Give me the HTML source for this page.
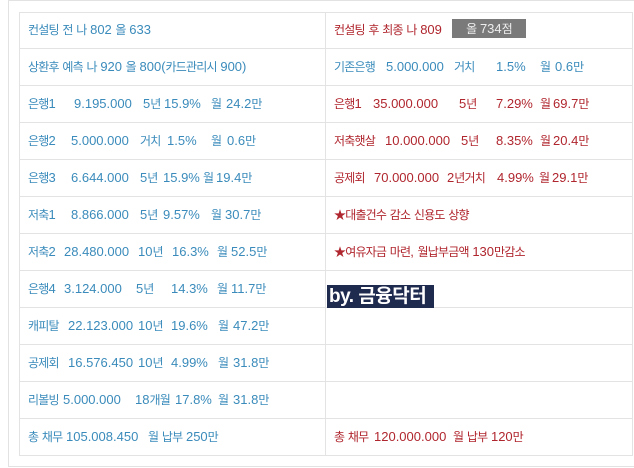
<!DOCTYPE html>
<html><head><meta charset="utf-8">
<style>
html,body{margin:0;padding:0;background:#fff;}
body{width:634px;height:468px;position:relative;overflow:hidden;font-family:"Liberation Sans","Noto Sans CJK KR",sans-serif;font-size:13px;}
.frame{position:absolute;left:8px;top:0;width:640px;height:465px;border:1px solid #e2e2e2;}
.tbl{position:absolute;left:19px;top:12px;width:612px;height:442px;border:1px solid #e3e3e3;}
.row{position:absolute;left:19px;width:614px;height:1px;background:#e3e3e3;}
.vline{position:absolute;left:325px;top:12px;width:1px;height:444px;background:#e3e3e3;}
.s{position:absolute;white-space:pre;line-height:16px;}
.b{color:#3a8bbb;}
.r{color:#b0262e;}
i{font-style:normal;font-size:12px;letter-spacing:-0.8px;}
.badge{position:absolute;left:452px;top:19px;width:74px;height:19px;background:#7a7a7a;color:#eee;line-height:19px;text-align:center;font-size:13px;}
.wm{position:absolute;left:327px;top:285px;width:107px;height:23px;background:#1f2a4f;color:#fff;font-weight:bold;font-size:19px;line-height:23px;padding-left:2px;box-sizing:border-box;white-space:pre;letter-spacing:-0.5px;}
</style></head><body>
<div class="frame"></div>
<div class="tbl"></div>
<div class="vline"></div>
<div class="row" style="top:48px"></div>
<div class="row" style="top:85px"></div>
<div class="row" style="top:122px"></div>
<div class="row" style="top:159px"></div>
<div class="row" style="top:196px"></div>
<div class="row" style="top:233px"></div>
<div class="row" style="top:270px"></div>
<div class="row" style="top:307px"></div>
<div class="row" style="top:344px"></div>
<div class="row" style="top:381px"></div>
<div class="row" style="top:418px"></div>

<!-- left column -->
<span class="s b" style="left:28px;top:22px"><i>컨설팅</i> <i>전</i> <i>나</i> 802 <i>올</i> 633</span>
<span class="s b" style="left:28px;top:59px"><i>상환후</i> <i>예측</i> <i>나</i> 920 <i>올</i> 800(<i>카드관리시</i> 900)</span>

<span class="s b" style="left:28px;top:96px"><i>은행</i>1</span>
<span class="s b" style="left:74px;top:96px">9.195.000</span>
<span class="s b" style="left:143px;top:96px">5<i>년</i></span>
<span class="s b" style="left:164px;top:96px">15.9%</span>
<span class="s b" style="left:211px;top:96px"><i>월</i></span>
<span class="s b" style="left:226px;top:96px">24.2<i>만</i></span>

<span class="s b" style="left:28px;top:133px"><i>은행</i>2</span>
<span class="s b" style="left:71px;top:133px">5.000.000</span>
<span class="s b" style="left:140px;top:133px"><i>거치</i></span>
<span class="s b" style="left:167px;top:133px">1.5%</span>
<span class="s b" style="left:211px;top:133px"><i>월</i></span>
<span class="s b" style="left:227px;top:133px">0.6<i>만</i></span>

<span class="s b" style="left:28px;top:170px"><i>은행</i>3</span>
<span class="s b" style="left:71px;top:170px">6.644.000</span>
<span class="s b" style="left:140px;top:170px">5<i>년</i></span>
<span class="s b" style="left:163px;top:170px">15.9%</span>
<span class="s b" style="left:203px;top:170px"><i>월</i></span>
<span class="s b" style="left:216px;top:170px">19.4<i>만</i></span>

<span class="s b" style="left:28px;top:207px"><i>저축</i>1</span>
<span class="s b" style="left:71px;top:207px">8.866.000</span>
<span class="s b" style="left:140px;top:207px">5<i>년</i></span>
<span class="s b" style="left:163px;top:207px">9.57%</span>
<span class="s b" style="left:211px;top:207px"><i>월</i></span>
<span class="s b" style="left:225px;top:207px">30.7<i>만</i></span>

<span class="s b" style="left:28px;top:244px"><i>저축</i>2</span>
<span class="s b" style="left:64px;top:244px">28.480.000</span>
<span class="s b" style="left:138px;top:244px">10<i>년</i></span>
<span class="s b" style="left:172px;top:244px">16.3%</span>
<span class="s b" style="left:217px;top:244px"><i>월</i></span>
<span class="s b" style="left:231px;top:244px">52.5<i>만</i></span>

<span class="s b" style="left:28px;top:281px"><i>은행</i>4</span>
<span class="s b" style="left:64px;top:281px">3.124.000</span>
<span class="s b" style="left:136px;top:281px">5<i>년</i></span>
<span class="s b" style="left:171px;top:281px">14.3%</span>
<span class="s b" style="left:217px;top:281px"><i>월</i></span>
<span class="s b" style="left:231px;top:281px">11.7<i>만</i></span>

<span class="s b" style="left:28px;top:318px"><i>캐피탈</i></span>
<span class="s b" style="left:68px;top:318px">22.123.000</span>
<span class="s b" style="left:138px;top:318px">10<i>년</i></span>
<span class="s b" style="left:171px;top:318px">19.6%</span>
<span class="s b" style="left:218px;top:318px"><i>월</i></span>
<span class="s b" style="left:233px;top:318px">47.2<i>만</i></span>

<span class="s b" style="left:28px;top:355px"><i>공제회</i></span>
<span class="s b" style="left:68px;top:355px">16.576.450</span>
<span class="s b" style="left:138px;top:355px">10<i>년</i></span>
<span class="s b" style="left:171px;top:355px">4.99%</span>
<span class="s b" style="left:218px;top:355px"><i>월</i></span>
<span class="s b" style="left:233px;top:355px">31.8<i>만</i></span>

<span class="s b" style="left:28px;top:392px"><i>리볼빙</i></span>
<span class="s b" style="left:63px;top:392px">5.000.000</span>
<span class="s b" style="left:135px;top:392px">18<i>개월</i></span>
<span class="s b" style="left:175px;top:392px">17.8%</span>
<span class="s b" style="left:218px;top:392px"><i>월</i></span>
<span class="s b" style="left:233px;top:392px">31.8<i>만</i></span>

<span class="s b" style="left:28px;top:429px"><i>총</i> <i>채무</i></span>
<span class="s b" style="left:66px;top:429px">105.008.450</span>
<span class="s b" style="left:148px;top:429px"><i>월</i> <i>납부</i> 250<i>만</i></span>

<!-- right column -->
<span class="s r" style="left:334px;top:22px"><i>컨설팅</i> <i>후</i> <i>최종</i> <i>나</i> 809</span>
<div class="badge"><i>올</i> 734<i>점</i></div>

<span class="s b" style="left:334px;top:59px"><i>기존은행</i></span>
<span class="s b" style="left:386px;top:59px">5.000.000</span>
<span class="s b" style="left:454px;top:59px"><i>거치</i></span>
<span class="s b" style="left:496px;top:59px">1.5%</span>
<span class="s b" style="left:540px;top:59px"><i>월</i></span>
<span class="s b" style="left:555px;top:59px">0.6<i>만</i></span>

<span class="s r" style="left:334px;top:96px"><i>은행</i>1</span>
<span class="s r" style="left:373px;top:96px">35.000.000</span>
<span class="s r" style="left:459px;top:96px">5<i>년</i></span>
<span class="s r" style="left:496px;top:96px">7.29%</span>
<span class="s r" style="left:540px;top:96px"><i>월</i></span>
<span class="s r" style="left:553px;top:96px">69.7<i>만</i></span>

<span class="s r" style="left:334px;top:133px"><i>저축햇살</i></span>
<span class="s r" style="left:385px;top:133px">10.000.000</span>
<span class="s r" style="left:461px;top:133px">5<i>년</i></span>
<span class="s r" style="left:496px;top:133px">8.35%</span>
<span class="s r" style="left:540px;top:133px"><i>월</i></span>
<span class="s r" style="left:553px;top:133px">20.4<i>만</i></span>

<span class="s r" style="left:334px;top:170px"><i>공제회</i></span>
<span class="s r" style="left:374px;top:170px">70.000.000</span>
<span class="s r" style="left:447px;top:170px">2<i>년거치</i></span>
<span class="s r" style="left:497px;top:170px">4.99%</span>
<span class="s r" style="left:539px;top:170px"><i>월</i></span>
<span class="s r" style="left:552px;top:170px">29.1<i>만</i></span>

<span class="s r" style="left:334px;top:207px"><i>★대출건수</i> <i>감소</i> <i>신용도</i> <i>상향</i></span>
<span class="s r" style="left:334px;top:244px"><i>★여유자금</i> <i>마련</i>, <i>월납부금액</i> 130<i>만감소</i></span>

<div class="wm">by. 금융닥터</div>

<span class="s r" style="left:334px;top:429px"><i>총</i> <i>채무</i></span>
<span class="s r" style="left:374px;top:429px">120.000.000</span>
<span class="s r" style="left:453px;top:429px"><i>월</i> <i>납부</i> 120<i>만</i></span>
</body></html>
